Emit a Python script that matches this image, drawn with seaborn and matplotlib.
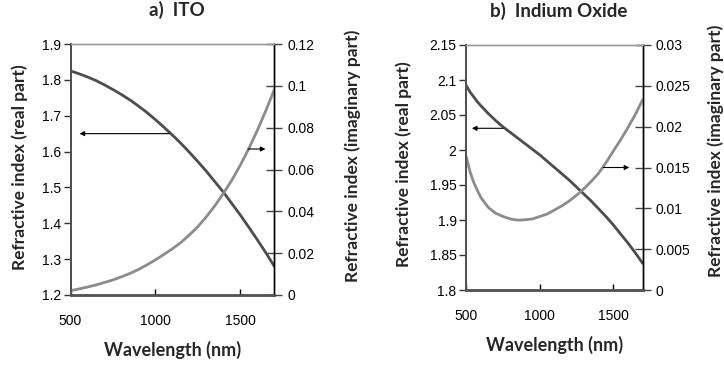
import matplotlib
matplotlib.use("Agg")
import matplotlib.pyplot as plt
import seaborn as sns
import pandas as pd

# ITO (50 nm steps)
ito_wl = [500, 550, 600, 650, 700, 750, 800, 850, 900, 950, 1000, 1050, 1100,
          1150, 1200, 1250, 1300, 1350, 1400, 1450, 1500, 1550, 1600, 1650, 1700]
ito_n = [1.825, 1.817, 1.808, 1.798, 1.786, 1.773, 1.759, 1.744, 1.727, 1.709, 1.689, 1.668, 1.646,
         1.623, 1.598, 1.572, 1.545, 1.516, 1.487, 1.455, 1.423, 1.389, 1.354, 1.318, 1.280]
ito_k = [0.0021, 0.0029, 0.0038, 0.0048, 0.0060, 0.0072, 0.0087, 0.0103, 0.0122, 0.0144, 0.0168, 0.0194, 0.0221,
         0.0251, 0.0287, 0.0327, 0.0374, 0.0427, 0.0485, 0.0549, 0.0621, 0.0700, 0.0787, 0.0881, 0.0982]

# Indium oxide
ino_wl = [500, 525, 550, 575, 600, 650, 700, 750, 800, 850, 900, 950, 1000, 1050,
          1100, 1150, 1200, 1250, 1300, 1350, 1400, 1450, 1500, 1550, 1600, 1650, 1700]
ino_n = [2.092, 2.083, 2.076, 2.069, 2.063, 2.052, 2.042, 2.033, 2.025, 2.017, 2.009, 2.001, 1.993, 1.984,
         1.975, 1.966, 1.957, 1.947, 1.937, 1.927, 1.916, 1.905, 1.893, 1.880, 1.867, 1.853, 1.838]
ino_k = [0.0163, 0.0145, 0.0132, 0.0122, 0.0113, 0.0101, 0.0094, 0.0090, 0.0087, 0.00855, 0.0086, 0.0087, 0.0090, 0.0093,
         0.0098, 0.0103, 0.0109, 0.0116, 0.0124, 0.0133, 0.0143, 0.0156, 0.0170, 0.0184, 0.0199, 0.0215, 0.0233]

titles = ["a)  ITO", "b)  Indium Oxide"]
xlabel = "Wavelength (nm)"
ylabel_left = "Refractive index (real part)"
ylabel_right = "Refractive index (imaginary part)"

sns.set_theme(style="white")
plt.rcParams["font.family"] = ["Liberation Sans", "DejaVu Sans"]
label_font = ["Lato", "DejaVu Sans"]

dark = "#4d4d4d"
light = "#8c8c8c"

fig = plt.figure(figsize=(7.24, 3.67), dpi=100)

panels = [
    dict(pos=[70.5 / 724, 72 / 367, 203.8 / 724, 251 / 367], wl=ito_wl, n=ito_n, k=ito_k,
         ylim=(1.2, 1.9), yticks=[1.2, 1.3, 1.4, 1.5, 1.6, 1.7, 1.8, 1.9],
         y2lim=(0, 0.12), y2ticks=[0, 0.02, 0.04, 0.06, 0.08, 0.1, 0.12],
         arr_n=((553, 1.65), (1082, 1.65)), arr_k=((1648, 0.0698), (1545, 0.0698)),
         lab_l=(-0.21, 0.51), lab_r=(1.345, 0.554), title=titles[0], tx=0.521),
    dict(pos=[466.3 / 724, 77 / 367, 176.4 / 724, 245 / 367], wl=ino_wl, n=ino_n, k=ino_k,
         ylim=(1.8, 2.15), yticks=[1.8, 1.85, 1.9, 1.95, 2.0, 2.05, 2.1, 2.15],
         y2lim=(0, 0.03), y2ticks=[0, 0.005, 0.01, 0.015, 0.02, 0.025, 0.03],
         arr_n=((538, 2.031), (750, 2.031)), arr_k=((1609, 0.015), (1432, 0.015)),
         lab_l=(-0.31, 0.514), lab_r=(1.368, 0.57), title=titles[1], tx=0.523),
]

for p in panels:
    ax = fig.add_axes(p["pos"])
    ax2 = ax.twinx()
    df_n = pd.DataFrame({"wl": p["wl"], "n": p["n"]})
    df_k = pd.DataFrame({"wl": p["wl"], "k": p["k"]})
    sns.lineplot(data=df_n, x="wl", y="n", ax=ax, color=dark, lw=2.0)
    sns.lineplot(data=df_k, x="wl", y="k", ax=ax2, color=light, lw=2.0)

    ax.set_xlim(500, 1700)
    ax.set_xticks([500, 1000, 1500])
    ax.set_ylim(*p["ylim"])
    ax.set_yticks(p["yticks"])
    ax.set_yticklabels(["%g" % v for v in p["yticks"]])
    ax2.set_ylim(*p["y2lim"])
    ax2.set_yticks(p["y2ticks"])
    ax2.set_yticklabels(["%g" % v for v in p["y2ticks"]])

    for a in (ax, ax2):
        a.spines["top"].set_color("#9a9a9a")
        a.spines["top"].set_linewidth(1.0)
        a.spines["left"].set_color("#505050")
        a.spines["left"].set_linewidth(1.3)
        a.spines["bottom"].set_color("#555555")
        a.spines["bottom"].set_linewidth(1.8)
        a.spines["right"].set_color("black")
        a.spines["right"].set_linewidth(1.0)

    ax.tick_params(axis="y", which="both", left=True, right=False, direction="out",
                   length=5, width=1, color="#333333", labelsize=10, pad=2, labelcolor="black")
    ax.tick_params(axis="x", bottom=True, direction="in", length=4, width=1,
                   color="black", labelsize=10, pad=14, labelcolor="black")
    ax2.tick_params(axis="y", right=True, direction="inout", length=11, width=1,
                    color="#444444", labelsize=10, pad=4, labelcolor="black")

    ax.set_xlabel(xlabel, fontsize=13, fontweight="bold", family=label_font, labelpad=9)
    ax.set_ylabel(ylabel_left, fontsize=12.5, fontweight="bold", family=label_font)
    ax2.set_ylabel(ylabel_right, fontsize=12.5, fontweight="bold", family=label_font)
    ax.yaxis.set_label_coords(*p["lab_l"])
    ax2.yaxis.set_label_coords(*p["lab_r"])
    ax.set_title(p["title"], fontsize=13.5, fontweight="bold", family=label_font, pad=20, x=p["tx"])

    ax.annotate("", xy=p["arr_n"][0], xytext=p["arr_n"][1], xycoords="data",
                arrowprops=dict(arrowstyle="-|>", color="black", lw=0.8, mutation_scale=7,
                                shrinkA=0, shrinkB=0))
    ax2.annotate("", xy=p["arr_k"][0], xytext=p["arr_k"][1], xycoords="data",
                 arrowprops=dict(arrowstyle="-|>", color="black", lw=0.8, mutation_scale=7,
                                 shrinkA=0, shrinkB=0))
    ax.set_facecolor("white")

fig.savefig("out.png", dpi=100, facecolor="white")
